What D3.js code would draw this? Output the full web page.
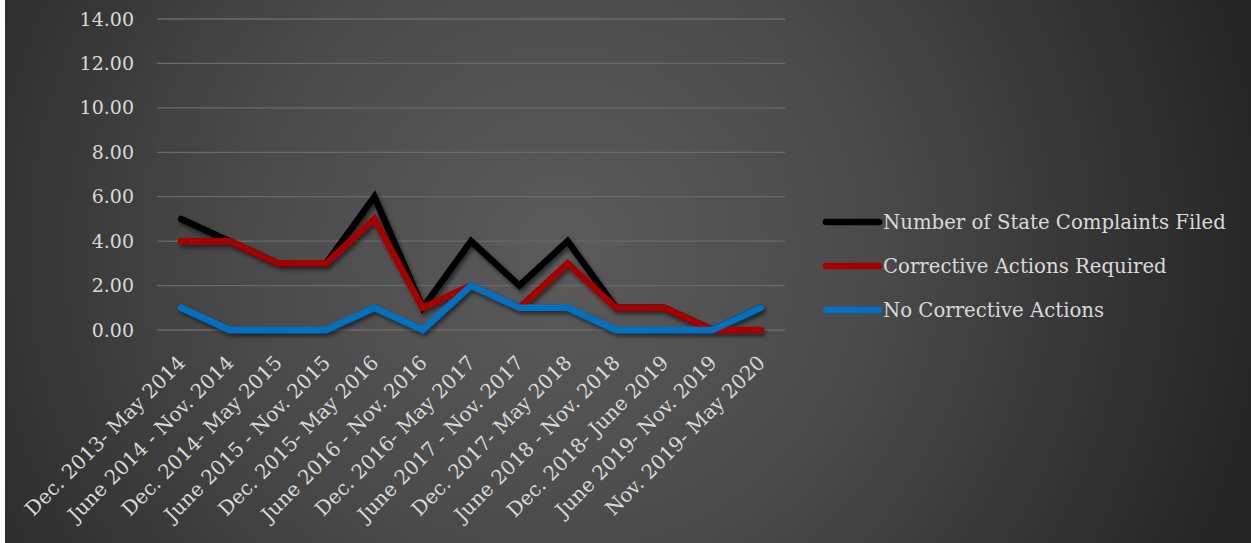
<!DOCTYPE html>
<html>
<head>
<meta charset="utf-8">
<script src="https://cdn.jsdelivr.net/npm/d3@7"></script>
<style>
  html, body { margin: 0; padding: 0; background: #fff; }
  #chart { position: absolute; left: 0; top: 0; }
</style>
</head>
<body>
<div id="chart"></div>
<script>
// periods on the x axis
const periods = [
  "Dec. 2013- May 2014", "June 2014 - Nov. 2014", "Dec. 2014- May 2015",
  "June 2015 - Nov. 2015", "Dec. 2015- May 2016", "June 2016 - Nov. 2016",
  "Dec. 2016- May 2017", "June 2017 - Nov. 2017", "Dec. 2017- May 2018",
  "June 2018 - Nov. 2018", "Dec. 2018- June 2019", "June 2019- Nov. 2019",
  "Nov. 2019- May 2020"
];

const complaintsFiled = [5, 4, 3, 3, 6, 1, 4, 2, 4, 1, 1, 0, 1];
const correctiveRequired = [4, 4, 3, 3, 5, 1, 2, 1, 3, 1, 1, 0, 0];
const noCorrective = [1, 0, 0, 0, 1, 0, 2, 1, 1, 0, 0, 0, 1];

const seriesNames = ["Number of State Complaints Filed", "Corrective Actions Required", "No Corrective Actions"];
const seriesColors = ["#000000", "#a50000", "#0070c0"];
const yTicks = [0, 2, 4, 6, 8, 10, 12, 14];

const W = 1251, H = 543;
const margin = { top: 19, right: 466, bottom: 213, left: 157 };
const width = W - margin.left - margin.right;
const height = H - margin.top - margin.bottom;

const root = d3.select("#chart").append("svg")
  .attr("width", W)
  .attr("height", H);

const defs = root.append("defs");
const grad = defs.append("radialGradient")
  .attr("id", "bg")
  .attr("gradientUnits", "userSpaceOnUse")
  .attr("cx", 560).attr("cy", 250).attr("r", 700);
grad.append("stop").attr("offset", "0%").attr("stop-color", "#5b5b5b");
grad.append("stop").attr("offset", "45%").attr("stop-color", "#4a4a4a");
grad.append("stop").attr("offset", "100%").attr("stop-color", "#262626");

const shadow = defs.append("filter").attr("id", "shadow")
  .attr("x", "-10%").attr("y", "-10%").attr("width", "120%").attr("height", "130%");
shadow.append("feDropShadow")
  .attr("dx", 2).attr("dy", 3).attr("stdDeviation", 2)
  .attr("flood-color", "#000").attr("flood-opacity", 0.55);

root.append("rect")
  .attr("x", 5).attr("y", 0)
  .attr("width", W - 5).attr("height", H)
  .attr("fill", "url(#bg)");

const svg = root.append("g")
  .attr("transform", "translate(" + margin.left + "," + margin.top + ")");

const x = d3.scalePoint().domain(periods).range([0, width]).padding(0.5);
const y = d3.scaleLinear().domain([0, 14]).range([height, 0]);

const font = "'DejaVu Serif', 'Liberation Serif', serif";
const textColor = "#d9d9d9";

// gridlines
svg.append("g")
  .selectAll("line")
  .data(yTicks)
  .enter()
  .append("line")
  .attr("x1", 0).attr("x2", width)
  .attr("y1", (d) => y(d)).attr("y2", (d) => y(d))
  .attr("stroke", "#6a6a6a")
  .attr("stroke-width", 1.3);

// y axis
const yAxis = svg.append("g")
  .call(d3.axisLeft(y).tickValues(yTicks).tickFormat(d3.format(".2f")).tickSize(0).tickPadding(23));
yAxis.select(".domain").remove();
yAxis.selectAll("text")
  .attr("fill", textColor)
  .style("font-family", font)
  .style("font-size", "19px");

// x axis, labels rotated so their ends sit just under each point
const xAxis = svg.append("g")
  .attr("transform", "translate(0," + height + ")")
  .call(d3.axisBottom(x).tickSize(0));
xAxis.select(".domain").remove();
xAxis.selectAll("text")
  .attr("fill", textColor)
  .style("font-family", font)
  .style("font-size", "20px")
  .attr("text-anchor", "end")
  .attr("x", 0)
  .attr("y", 0)
  .attr("dy", "0.35em")
  .attr("transform", "translate(0,29) rotate(-45)");

// lines
const line = d3.line()
  .x((d, i) => x(periods[i]))
  .y((d) => y(d));

const allSeries = [complaintsFiled, correctiveRequired, noCorrective];

svg.append("g")
  .attr("filter", "url(#shadow)")
  .selectAll("path")
  .data(allSeries)
  .enter()
  .append("path")
  .attr("d", line)
  .attr("fill", "none")
  .attr("stroke", (d, i) => seriesColors[i])
  .attr("stroke-width", 6.5)
  .attr("stroke-linecap", "round")
  .attr("stroke-linejoin", "miter");

// legend
const legend = root.append("g").attr("transform", "translate(826,222)");
const item = legend.selectAll("g")
  .data(seriesNames)
  .enter()
  .append("g")
  .attr("transform", (d, i) => "translate(0," + i * 44 + ")");

item.append("line")
  .attr("x1", 0).attr("x2", 53)
  .attr("y1", 0).attr("y2", 0)
  .attr("stroke", (d, i) => seriesColors[i])
  .attr("stroke-width", 6.5)
  .attr("stroke-linecap", "round");

item.append("text")
  .attr("x", 57)
  .attr("y", 0)
  .attr("dy", "0.35em")
  .attr("fill", textColor)
  .style("font-family", font)
  .style("font-size", "19.7px")
  .text((d) => d);
</script>
</body>
</html>
